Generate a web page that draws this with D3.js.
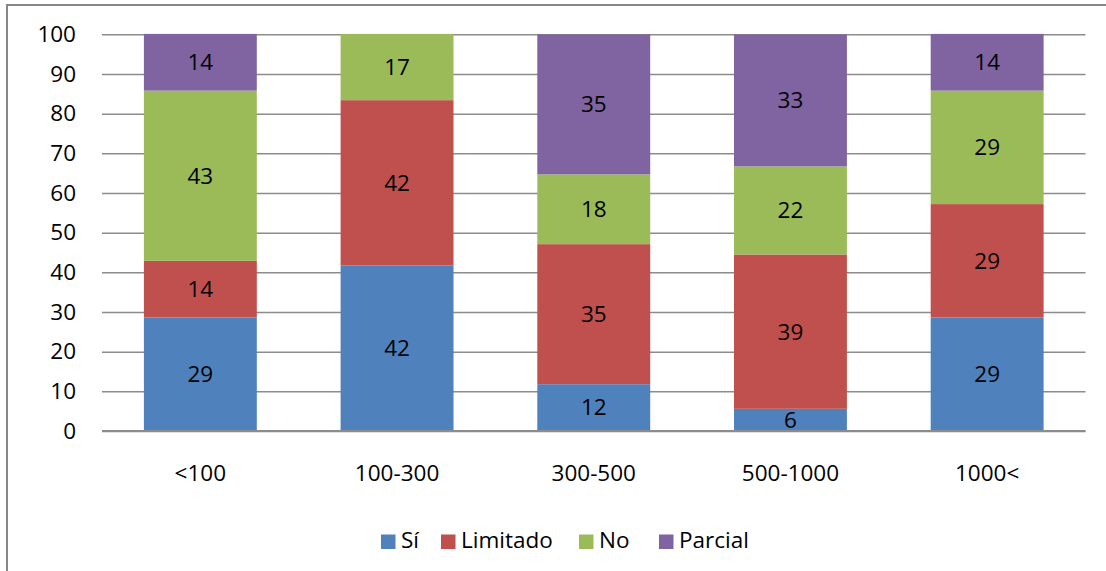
<!DOCTYPE html>
<html>
<head>
<meta charset="utf-8">
<script src="https://cdn.jsdelivr.net/npm/d3@7"></script>
<style>
  html, body { margin: 0; padding: 0; background: #fff; }
  svg { display: block; font-family: "Open Sans", Lato, sans-serif; }
</style>
</head>
<body>
<svg id="chart" width="1106" height="571"></svg>
<script>
// Company size groups and share (%) of answers per group
const categories = ["<100", "100-300", "300-500", "500-1000", "1000<"];
const seriesNames = ["Sí", "Limitado", "No", "Parcial"];
const siValues       = [28.6, 41.7, 11.8,  5.6, 28.6];
const limitadoValues = [14.3, 41.7, 35.3, 38.9, 28.6];
const noValues       = [42.9, 16.7, 17.6, 22.2, 28.6];
const parcialValues  = [14.3,  0.0, 35.3, 33.3, 14.3];
const yTicks = [0, 10, 20, 30, 40, 50, 60, 70, 80, 90, 100];

const colors = ["#4f81bd", "#c0504d", "#9bbb59", "#8064a2"];
const seriesValues = [siValues, limitadoValues, noValues, parcialValues];

const rows = categories.map((c, i) => {
  const r = { cat: c };
  seriesNames.forEach((s, k) => { r[s] = seriesValues[k][i]; });
  return r;
});

const svg = d3.select("#chart");
const fontSize = 22.5;
const fontFamily = "'Open Sans', Lato, sans-serif";

// chart frame (left and top edges)
svg.append("path")
  .attr("d", "M7,571V5H1106")
  .attr("fill", "none")
  .attr("stroke", "#878787")
  .attr("stroke-width", 2);

const plot = { left: 102, right: 1085.5, top: 34.3, bottom: 431 };

const x = d3.scaleBand()
  .domain(categories)
  .range([plot.left, plot.right])
  .paddingInner(0.426)
  .paddingOuter(0.213);

const y = d3.scaleLinear()
  .domain([0, 100])
  .range([plot.bottom, plot.top]);

// value axis with horizontal gridlines
const yAxis = svg.append("g")
  .attr("transform", `translate(${plot.left},0)`)
  .call(d3.axisLeft(y).tickValues(yTicks).tickFormat(d3.format("d"))
    .tickSize(-(plot.right - plot.left)).tickPadding(26));
yAxis.select(".domain").remove();
yAxis.selectAll(".tick line")
  .attr("stroke", "#8c8c8c")
  .attr("stroke-width", 1.5);
yAxis.selectAll(".tick text")
  .attr("fill", "#000")
  .style("font-size", fontSize + "px")
  .style("font-family", fontFamily);

// stacked bars
const stack = d3.stack().keys(seriesNames);
const layers = stack(rows);

const layerG = svg.append("g").selectAll("g")
  .data(layers)
  .join("g")
  .attr("fill", (d, i) => colors[i]);

layerG.selectAll("rect")
  .data(d => d.filter(s => s[1] - s[0] > 0))
  .join("rect")
  .attr("x", d => x(d.data.cat))
  .attr("width", x.bandwidth())
  .attr("y", d => y(d[1]))
  .attr("height", d => y(d[0]) - y(d[1]));

// segment value labels
const fmt = d3.format(".0f");
layerG.selectAll("text")
  .data(d => d.filter(s => s[1] - s[0] > 0).map(s => ({ s, key: d.key })))
  .join("text")
  .attr("x", d => x(d.s.data.cat) + x.bandwidth() / 2)
  .attr("y", d => (y(d.s[0]) + y(d.s[1])) / 2)
  .attr("dy", "0.35em")
  .attr("text-anchor", "middle")
  .attr("fill", "#000")
  .style("font-size", fontSize + "px")
  .text(d => fmt(d.s.data[d.key]));

// baseline
svg.append("line")
  .attr("x1", plot.left).attr("x2", plot.right)
  .attr("y1", y(0)).attr("y2", y(0))
  .attr("stroke", "#8c8c8c")
  .attr("stroke-width", 2);

// category axis labels
const xAxis = svg.append("g")
  .attr("transform", `translate(0,${plot.bottom})`)
  .call(d3.axisBottom(x).tickSize(0));
xAxis.select(".domain").remove();
xAxis.selectAll(".tick text")
  .attr("y", 42.5)
  .attr("dy", "0.35em")
  .attr("fill", "#000")
  .style("font-size", fontSize + "px")
  .style("font-family", fontFamily);

// legend
const legendX = [381, 441, 579, 659];
const legend = svg.append("g").selectAll("g")
  .data(seriesNames)
  .join("g")
  .attr("transform", (d, i) => `translate(${legendX[i]},534.5)`);
legend.append("rect")
  .attr("width", 14.5).attr("height", 14.5)
  .attr("fill", (d, i) => colors[i]);
legend.append("text")
  .attr("x", 20).attr("y", 13.5)
  .attr("fill", "#000")
  .style("font-size", fontSize + "px")
  .text(d => d);
</script>
</body>
</html>
